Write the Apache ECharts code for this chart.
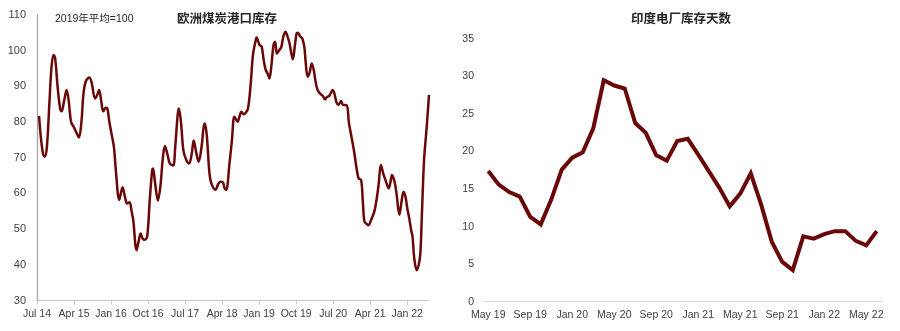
<!DOCTYPE html>
<html>
<head>
<meta charset="utf-8">
<script src="https://cdn.jsdelivr.net/npm/echarts@6/dist/echarts.min.js"></script>
<style>
  html, body { margin: 0; padding: 0; background: #ffffff; }
  #chart { width: 900px; height: 331px; }
</style>
</head>
<body>
<div id="chart"></div>
<script>
// European port coal stocks, index (2019 average = 100), weekly readings
const euroDates = [
  '2014-07-16','2014-08-01','2014-08-16','2014-08-28','2014-09-13','2014-10-01','2014-10-16','2014-11-01','2014-11-13','2014-12-01',
  '2014-12-19','2015-01-01','2015-01-19','2015-02-07','2015-02-22','2015-03-10','2015-04-01','2015-04-19','2015-05-07','2015-05-25',
  '2015-06-10','2015-06-28','2015-07-22','2015-08-10','2015-09-04','2015-09-19','2015-10-04','2015-10-19','2015-11-04','2015-11-22',
  '2015-12-04','2015-12-19','2016-01-04','2016-01-22','2016-02-07','2016-03-01','2016-03-25','2016-04-13','2016-04-28','2016-05-16',
  '2016-06-01','2016-06-13','2016-07-07','2016-07-22','2016-08-07','2016-08-22','2016-09-07','2016-09-25','2016-10-13','2016-11-01',
  '2016-11-07','2016-11-22','2016-12-13','2017-01-01','2017-01-19','2017-02-04','2017-02-22','2017-03-10','2017-04-04','2017-04-19',
  '2017-05-07','2017-05-16','2017-06-01','2017-06-19','2017-07-10','2017-08-01','2017-08-19','2017-09-04','2017-09-22','2017-10-10',
  '2017-11-01','2017-11-16','2017-11-25','2017-12-10','2017-12-28','2018-01-13','2018-02-13','2018-03-01','2018-03-19','2018-04-07',
  '2018-04-19','2018-05-01','2018-05-25','2018-06-13','2018-07-01','2018-07-25','2018-08-07','2018-08-22','2018-09-07','2018-09-25',
  '2018-10-10','2018-10-28','2018-11-16','2018-12-01','2018-12-13','2018-12-25','2019-01-04','2019-01-19','2019-02-04','2019-02-19',
  '2019-03-04','2019-03-16','2019-04-01','2019-04-16','2019-04-28','2019-05-10','2019-05-25','2019-06-13','2019-06-28','2019-07-13',
  '2019-07-28','2019-08-13','2019-08-25','2019-09-07','2019-09-22','2019-10-04','2019-10-13','2019-11-01','2019-11-16','2019-12-01',
  '2019-12-10','2019-12-25','2020-01-10','2020-01-25','2020-02-10','2020-02-22','2020-03-07','2020-03-25','2020-04-16','2020-05-01',
  '2020-05-16','2020-06-01','2020-06-16','2020-06-28','2020-07-10','2020-07-25','2020-08-10','2020-08-28','2020-09-13','2020-10-10',
  '2020-10-25','2020-11-10','2020-12-04','2020-12-22','2021-01-07','2021-01-25','2021-02-07','2021-02-19','2021-03-04','2021-03-19',
  '2021-04-07','2021-05-01','2021-05-19','2021-06-04','2021-06-19','2021-07-07','2021-07-22','2021-08-16','2021-08-28','2021-09-10',
  '2021-09-28','2021-10-13','2021-11-04','2021-11-19','2021-12-04','2021-12-19','2022-01-01','2022-01-16','2022-02-01','2022-02-10',
  '2022-02-22','2022-03-10','2022-03-25','2022-04-07','2022-04-19','2022-05-04','2022-05-22','2022-06-10'
];
const euroStock = [
  81.7, 75, 71, 70.3, 73, 85, 95, 98.8, 98, 90,
  84, 83, 86, 89, 86, 80, 78.5, 77, 75.7, 80,
  88, 91.5, 92.5, 91, 86.6, 87.5, 89, 86, 83, 84,
  83.8, 80, 76.8, 73, 66, 58.2, 61.7, 59, 57.2, 57.5,
  55, 52.5, 44.1, 46.5, 48.8, 47.3, 47, 48, 58, 66.5,
  67, 63, 58, 62, 70, 73.3, 71, 68.4, 67.8, 73,
  82, 83.8, 80, 72, 69.4, 68.4, 71, 74.8, 71.5, 68.9,
  73, 78.5, 79.6, 76, 66, 62.8, 61, 62.5, 63.3, 63.1,
  61.5, 61, 68.4, 75, 81.5, 80.1, 81.5, 82.9, 82.2, 82.7,
  83.8, 90, 98.8, 102, 103.7, 102.5, 101.6, 101.2, 97.5, 94.6,
  93.5, 92.2, 96, 101.6, 102.5, 99.2, 100, 101.1, 104, 105.3,
  104, 102, 99.5, 97.6, 101.5, 104.8, 105, 104, 103.4, 101,
  97, 92.7, 94, 96.4, 94.5, 91.5, 89, 88, 87.3, 86.4,
  87, 87.3, 88.3, 89, 88, 85.5, 84.8, 85.9, 84.8, 84.7,
  80, 76.8, 71.7, 67, 64.2, 63.8, 58, 52.1, 51.5, 51.1,
  52.5, 54.9, 58.6, 63, 68, 65.5, 63.8, 61.4, 63, 65.2,
  63.4, 60, 54, 57.5, 60.5, 59, 56, 53, 49.5, 47.9,
  42, 38.5, 40, 43.2, 55, 69.4, 78, 87.6
];
const euroTickLabels = ['Jul 14','Apr 15','Jan 16','Oct 16','Jul 17','Apr 18','Jan 19','Oct 19','Jul 20','Apr 21','Jan 22'];

// Days of coal stock at Indian power plants, monthly
const indiaMonths = [
  'May 19','Jun 19','Jul 19','Aug 19','Sep 19','Oct 19','Nov 19','Dec 19',
  'Jan 20','Feb 20','Mar 20','Apr 20','May 20','Jun 20','Jul 20','Aug 20','Sep 20','Oct 20','Nov 20','Dec 20',
  'Jan 21','Feb 21','Mar 21','Apr 21','May 21','Jun 21','Jul 21','Aug 21','Sep 21','Oct 21','Nov 21','Dec 21',
  'Jan 22','Feb 22','Mar 22','Apr 22','May 22','Jun 22'
];
const indiaDays = [
  17.4, 15.6, 14.6, 14.0, 11.3, 10.3, 13.6, 17.6,
  19.2, 19.9, 23.1, 29.5, 28.8, 28.4, 23.8, 22.5, 19.5, 18.8, 21.4, 21.7,
  19.6, 17.4, 15.2, 12.7, 14.4, 17.1, 12.9, 8.0, 5.3, 4.2, 8.7, 8.4,
  9.0, 9.4, 9.4, 8.1, 7.5, 9.4
];

// months elapsed since the start of July 2014, used as the x value of the left panel
function monthsFromStart(dateStr) {
  const [y, m, d] = dateStr.split('-').map(Number);
  return (y - 2014) * 12 + (m - 7) + (d - 1) / 30;
}
const euroSeries = euroDates.map((d, i) => [monthsFromStart(d), euroStock[i]]);
const euroTickValues = euroTickLabels.map((_, i) => i * 9);

const FONT = '"Liberation Sans", Arial, "Noto Sans CJK SC", sans-serif';
const LABEL_COLOR = '#404040';
const LINE_COLOR = '#6a0808';

const chart = echarts.init(document.getElementById('chart'), null, { renderer: 'canvas' });

chart.setOption({
  animation: false,
  backgroundColor: '#ffffff',
  textStyle: { fontFamily: FONT },
  title: [
    {
      text: '欧洲煤炭港口库存',
      left: 222, top: 8, textAlign: 'center',
      textStyle: { fontFamily: FONT, fontSize: 12.5, fontWeight: 'bold', color: '#262626' }
    },
    {
      text: '2019年平均=100',
      left: 50, top: 9,
      textStyle: { fontFamily: FONT, fontSize: 10.5, fontWeight: 'normal', color: '#262626' }
    },
    {
      text: '印度电厂库存天数',
      left: 676, top: 8, textAlign: 'center',
      textStyle: { fontFamily: FONT, fontSize: 12.5, fontWeight: 'bold', color: '#262626' }
    }
  ],
  grid: [
    { left: 37, top: 15, width: 392, height: 285.5, containLabel: false },
    { left: 483, top: 39, width: 399, height: 262.7, containLabel: false }
  ],
  xAxis: [
    {
      gridIndex: 0,
      type: 'value',
      min: 0,
      max: 95.3,
      splitLine: { show: false },
      axisLine: { show: true, lineStyle: { color: '#c8c8c8', width: 1 } },
      axisTick: {
        show: true, length: 4, inside: false,
        customValues: euroTickValues,
        lineStyle: { color: '#c8c8c8' }
      },
      axisLabel: {
        customValues: euroTickValues,
        formatter: v => euroTickLabels[Math.round(v / 9)] || '',
        color: LABEL_COLOR, fontSize: 10.5, fontFamily: FONT, margin: 8
      }
    },
    {
      gridIndex: 1,
      type: 'category',
      data: indiaMonths,
      boundaryGap: true,
      axisLine: { show: true, lineStyle: { color: '#d9d9d9', width: 1 } },
      axisTick: { show: false },
      splitLine: { show: false },
      axisLabel: {
        interval: 3,
        color: LABEL_COLOR, fontSize: 10.5, fontFamily: FONT, margin: 8
      }
    }
  ],
  yAxis: [
    {
      gridIndex: 0,
      type: 'value',
      min: 30, max: 110, interval: 10,
      splitLine: { show: false },
      axisLine: { show: true, lineStyle: { color: '#a6a6a6', width: 1.3 } },
      axisTick: { show: false },
      axisLabel: { color: LABEL_COLOR, fontSize: 11, fontFamily: FONT, margin: 11 }
    },
    {
      gridIndex: 1,
      type: 'value',
      min: 0, max: 35, interval: 5,
      splitLine: { show: false },
      axisLine: { show: false },
      axisTick: { show: false },
      axisLabel: { color: LABEL_COLOR, fontSize: 10.5, fontFamily: FONT, margin: 9 }
    }
  ],
  series: [
    {
      type: 'line',
      xAxisIndex: 0, yAxisIndex: 0,
      data: euroSeries,
      smooth: 0.35,
      showSymbol: false,
      lineStyle: { color: LINE_COLOR, width: 2.5 }
    },
    {
      type: 'line',
      xAxisIndex: 1, yAxisIndex: 1,
      data: indiaDays,
      smooth: false,
      showSymbol: false,
      lineStyle: { color: LINE_COLOR, width: 4, join: 'miter' }
    }
  ]
});
</script>
</body>
</html>
